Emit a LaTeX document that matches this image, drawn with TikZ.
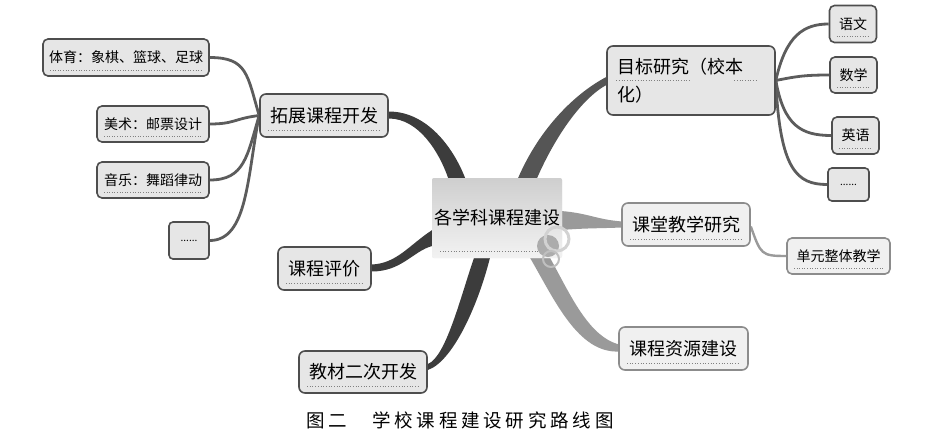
\documentclass[tikz,border=0pt]{standalone}
\usepackage{fontspec}
\setmainfont{Noto Sans CJK SC}
\usetikzlibrary{calc,backgrounds}
\definecolor{bord}{HTML}{4E4E4E}
\definecolor{bordl}{HTML}{8C8C8C}
\definecolor{boxfill}{HTML}{E6E6E6}
\definecolor{boxfilll}{HTML}{F0F0F0}
\definecolor{brdark}{HTML}{3C3C3C}
\definecolor{brmid}{HTML}{555555}
\definecolor{brlight}{HTML}{9A9A9A}
\definecolor{subline}{HTML}{5C5C5C}
\newcommand\capsp{\hspace{3.8pt}}
\begin{document}
\begin{tikzpicture}[x=1pt,y=-1pt,
  box/.style={draw=bord, line width=1.6pt, fill=boxfill, rounded corners=6pt,
    inner sep=0pt, align=center, font=\fontsize{18}{21}\selectfont,
    path picture={\draw[dotted, gray, line width=0.7pt]
      ([xshift=8pt,yshift=7pt]path picture bounding box.south west) --
      ([xshift=-8pt,yshift=7pt]path picture bounding box.south east);}},
  lbox/.style={box, draw=bordl, fill=boxfilll},
  sbox/.style={box, font=\fontsize{14}{17}\selectfont, rounded corners=5pt,
    path picture={\draw[dotted, gray, line width=0.6pt]
      ([xshift=7pt,yshift=6pt]path picture bounding box.south west) --
      ([xshift=-7pt,yshift=6pt]path picture bounding box.south east);}},
  lsbox/.style={sbox, draw=bordl, fill=boxfilll},
  dots/.style={box, font=\fontsize{10}{12}\selectfont, rounded corners=4pt, path picture={}},
  subcon/.style={draw=subline, line width=2.8pt},
  lsubcon/.style={draw=brlight, line width=2.4pt},
]
\useasboundingbox (0,0) rectangle (943,434);

% ---------- nodes ----------
\node[box, minimum width=130pt, minimum height=80pt, draw=none, rounded corners=2pt,
  top color=gray!38, bottom color=gray!10] (c) at (497,218) {各学科课程建设};

\node[box, minimum width=128pt, minimum height=43pt] (tz) at (324,115.5) {拓展课程开发};
\node[sbox, minimum width=166pt, minimum height=37pt] (ty) at (126,57.5) {体育：象棋、篮球、足球};
\node[sbox, minimum width=112pt, minimum height=36pt] (ms) at (153,124) {美术：邮票设计};
\node[sbox, minimum width=112pt, minimum height=36pt] (yy) at (153,180) {音乐：舞蹈律动};
\node[dots, minimum width=40pt, minimum height=37pt] (d1) at (189,240.5) {......};

\node[box, minimum width=93pt, minimum height=43pt] (pj) at (324.5,268.5) {课程评价};
\node[box, minimum width=128pt, minimum height=42pt] (jc) at (363,372) {教材二次开发};

\node[box, minimum width=168pt, minimum height=69pt, text width=148pt, align=left,
  font=\fontsize{18}{28}\selectfont, path picture={}] (mb) at (691,80.5) {目标研究（校本\\化）};
\node[sbox, minimum width=47pt, minimum height=37pt] (yw) at (853,24) {语文};
\node[sbox, minimum width=47pt, minimum height=36pt] (sx) at (853.5,75) {数学};
\node[sbox, minimum width=47pt, minimum height=37pt] (yyy) at (855.5,135.5) {英语};
\node[dots, minimum width=41pt, minimum height=33pt] (d2) at (848.5,184.5) {......};

\node[lbox, minimum width=128pt, minimum height=43pt] (kt) at (686,224.5) {课堂教学研究};
\node[lsbox, minimum width=103pt, minimum height=36pt] (dy) at (838.5,256) {单元整体教学};
\node[lbox, minimum width=129pt, minimum height=43pt] (zy) at (683.5,348.5) {课程资源建设};

% dotted underline of the two-line node
\draw[dotted, gray, line width=0.7pt] ($(mb.west)+(10,0)$) -- ++(73,0);
\draw[dotted, gray, line width=0.7pt] ($(mb.west)+(128,0)$) -- ++(22,0);

% ornament on the central topic
\fill[gray!65] (548,246) circle (11);
\draw[gray!35, line width=3pt] (557,239) circle (12);
\draw[gray!50, line width=2pt] (551,259) circle (8);

\begin{pgfonlayer}{background}
% ---------- main branches (tapered) ----------
\fill[brdark] ($(tz.east)+(0,-4)$) .. controls ($(tz.east)+(38,-4)$) and ($(c.north west)+(22,-30)$) .. ($(c.north west)+(34,1)$)
  -- ($(c.north west)+(17,1)$) .. controls ($(c.north west)+(8,-25)$) and ($(tz.east)+(30,3)$) .. ($(tz.east)+(0,3)$) -- cycle;
\fill[brdark] ($(c.west)+(1,12)$) .. controls ($(c.west)+(-22,27)$) and ($(pj.east)+(25,-5)$) .. ($(pj.east)+(0,-4)$)
  -- ($(pj.east)+(0,3)$) .. controls ($(pj.east)+(30,3)$) and ($(c.west)+(-18,33)$) .. ($(c.west)+(1,28)$) -- cycle;
\fill[brdark] ($(c.south)+(-23,-1)$) .. controls ($(c.south)+(-37,40)$) and ($(jc.east)+(18,-15)$) .. ($(jc.east)+(0,-8)$)
  -- ($(jc.east)+(0,-2)$) .. controls ($(jc.east)+(24,-10)$) and ($(c.south)+(-20,50)$) .. ($(c.south)+(-7,-1)$) -- cycle;
\fill[brmid] ($(c.north)+(21,1)$) .. controls ($(c.north)+(43,-50)$) and ($(mb.west)+(-30,12)$) .. ($(mb.west)+(1,-4)$)
  -- ($(mb.west)+(1,4)$) .. controls ($(mb.west)+(-25,18)$) and ($(c.north)+(58,-40)$) .. ($(c.north)+(40,1)$) -- cycle;
\fill[brlight] ($(c.east)+(-2,-7)$) .. controls ($(c.east)+(25,-5)$) and ($(kt.west)+(-25,-5)$) .. ($(kt.west)+(1,-3)$)
  -- ($(kt.west)+(1,3)$) .. controls ($(kt.west)+(-25,4)$) and ($(c.east)+(25,10)$) .. ($(c.east)+(-2,12)$) -- cycle;
\fill[brlight] ($(c.south)+(33,-1)$) .. controls ($(c.south)+(58,42)$) and ($(zy.west)+(-40,5)$) .. ($(zy.west)+(1,3)$)
  -- ($(zy.west)+(1,-4)$) .. controls ($(zy.west)+(-30,-12)$) and ($(c.south)+(73,35)$) .. ($(c.south)+(53,-1)$) -- cycle;

% ---------- sub connectors ----------
\draw[subcon] (ty.east) .. controls +(38,0) and +(-12,-40) .. (tz.west);
\draw[subcon] (ms.east) .. controls +(25,0) and +(-25,3) .. (tz.west);
\draw[subcon] (yy.east) .. controls +(35,0) and +(-12,40) .. (tz.west);
\draw[subcon] (d1.east) .. controls +(38,0) and +(-12,60) .. (tz.west);

\draw[subcon] (mb.east) .. controls +(10,-45) and +(-25,0) .. (yw.west);
\draw[subcon] (mb.east) .. controls +(20,-4) and +(-25,0) .. (sx.west);
\draw[subcon] (mb.east) .. controls +(8,45) and +(-30,0) .. (yyy.west);
\draw[subcon] (mb.east) .. controls +(4,90) and +(-30,0) .. (d2.west);

\draw[lsubcon] ($(kt.east)+(0,2)$) .. controls +(10,28) and +(-25,0) .. (dy.west);
\end{pgfonlayer}

% caption
\node[font=\fontsize{18.5}{21}\selectfont, inner sep=0pt] (cap) at (460,420)
  {图\capsp 二\hspace{25pt}学\capsp 校\capsp 课\capsp 程\capsp 建\capsp 设\capsp 研\capsp 究\capsp 路\capsp 线\capsp 图};
\end{tikzpicture}
\end{document}
